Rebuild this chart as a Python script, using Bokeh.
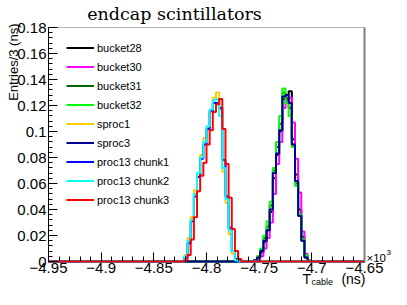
import numpy as np
from bokeh.plotting import figure
from bokeh.models import (Legend, LegendItem, Label, FixedTicker, LinearAxis,
                          CustomJSTickFormatter, Range1d, BoxAnnotation)
from bokeh.embed import file_html
from bokeh.resources import INLINE

# ---------------- data (x in units of 10^3 ns, bins of 3 ns) ----------------
x_min, x_max = -4.95, -4.65
bin_width = 0.003
y_min, y_max = 0.0, 0.18

left_first_bin = 43
sproc1 = [0.005, 0.018, 0.034, 0.055, 0.066, 0.082, 0.095, 0.103, 0.115, 0.126,
          0.130, 0.117, 0.069, 0.045, 0.021, 0.006, 0.001]
proc13_chunk1 = [0.003, 0.014, 0.031, 0.050, 0.065, 0.079, 0.090, 0.102, 0.116, 0.122,
                 0.122, 0.118, 0.078, 0.050, 0.026, 0.008, 0.002]
proc13_chunk2 = [0.004, 0.016, 0.032, 0.052, 0.068, 0.080, 0.092, 0.104, 0.117, 0.124,
                 0.125, 0.112, 0.072, 0.048, 0.024, 0.008, 0.001]
proc13_chunk3 = [0.001, 0.005, 0.017, 0.034, 0.054, 0.066, 0.076, 0.090, 0.101, 0.115,
                 0.121, 0.125, 0.102, 0.075, 0.049, 0.025, 0.008, 0.002]

right_first_bin = 64
bucket28 = [0.000, 0.001, 0.003, 0.007, 0.015, 0.024, 0.038, 0.064, 0.082, 0.100,
            0.125, 0.128, 0.131, 0.094, 0.067, 0.040, 0.019, 0.005, 0.001]
bucket30 = [0.000, 0.000, 0.001, 0.004, 0.010, 0.018, 0.030, 0.052, 0.075, 0.092,
            0.118, 0.124, 0.126, 0.107, 0.079, 0.053, 0.023, 0.006, 0.001]
bucket31 = [0.000, 0.001, 0.004, 0.009, 0.018, 0.027, 0.043, 0.070, 0.088, 0.106,
            0.130, 0.126, 0.118, 0.090, 0.060, 0.036, 0.016, 0.003, 0.000]
bucket32 = [0.000, 0.001, 0.004, 0.010, 0.020, 0.031, 0.046, 0.072, 0.092, 0.112,
            0.133, 0.122, 0.112, 0.088, 0.058, 0.036, 0.017, 0.005, 0.001]
sproc3 = [0.000, 0.001, 0.003, 0.008, 0.016, 0.024, 0.040, 0.068, 0.083, 0.101,
          0.127, 0.128, 0.122, 0.090, 0.062, 0.035, 0.016, 0.003, 0.000]

series = [
    ("bucket28", bucket28, right_first_bin, "#000000"),
    ("bucket30", bucket30, right_first_bin, "#ff00ff"),
    ("bucket31", bucket31, right_first_bin, "#006600"),
    ("bucket32", bucket32, right_first_bin, "#00ff00"),
    ("sproc1", sproc1, left_first_bin, "#ffcc00"),
    ("sproc3", sproc3, right_first_bin, "#000099"),
    ("proc13 chunk1", proc13_chunk1, left_first_bin, "#0000ff"),
    ("proc13 chunk2", proc13_chunk2, left_first_bin, "#00ffff"),
    ("proc13 chunk3", proc13_chunk3, left_first_bin, "#ff0000"),
]

title_text = "endcap scintillators"
y_title = "Entries/3 (ns)"

n_bins = int(round((x_max - x_min) / bin_width))
edges = x_min + bin_width * np.arange(n_bins + 1)

# ---------------- layout: frame fills canvas, axes drawn at fixed locations ----
W, H = 391, 289
box_l, box_r, box_t, box_b = 48, 364, 27, 261   # canvas px of the axis box
sx = (x_max - x_min) / (box_r - box_l)
sy = (y_max - y_min) / (box_b - box_t)
xr = Range1d(x_min - box_l * sx, x_max + (W - box_r) * sx)
yr = Range1d(y_min - (H - box_b) * sy, y_max + box_t * sy)

p = figure(width=W, height=H, output_backend="svg", toolbar_location=None,
           x_range=xr, y_range=yr, min_border=0, title=None)
p.outline_line_color = None
p.background_fill_color = "white"
p.border_fill_color = "white"
p.xgrid.visible = False
p.ygrid.visible = False

p.add_layout(BoxAnnotation(left=x_min, right=x_max, bottom=y_min, top=y_max,
                           fill_alpha=0, line_color="black", line_width=1,
                           level="underlay"))

items = []
for label, vals, first, color in series:
    full = np.zeros(n_bins)
    full[first:first + len(vals)] = vals
    r = p.step(edges, np.append(full, full[-1]), mode="after",
               line_color=color, line_width=2)
    items.append(LegendItem(label=label, renderers=[r]))

legend = Legend(items=items, location=(66, 80), border_line_color=None,
                background_fill_alpha=0, padding=0, margin=0, spacing=0,
                label_height=19, glyph_height=19, glyph_width=28,
                label_standoff=3, label_text_font="Liberation Sans",
                label_text_font_size="11px", label_text_color="black")
p.add_layout(legend)

fmt = CustomJSTickFormatter(code="""
let s = tick.toFixed(2).replace(/\\.?0+$/, '');
if (s === '' || s === '-0') s = '0';
return s.replace('-', '\\u2212');
""")

xmaj = np.round(np.arange(x_min, x_max + 1e-9, 0.05), 3)
xmin_t = np.round(np.arange(x_min, x_max + 1e-9, 0.01), 3)
ymaj = np.round(np.arange(y_min, y_max + 1e-9, 0.02), 3)
ymin_t = np.round(np.arange(y_min, y_max + 1e-9, 0.004), 4)

xax, yax = p.xaxis[0], p.yaxis[0]
xax.fixed_location = y_min
yax.fixed_location = x_min
xax.bounds = (x_min, x_max)
yax.bounds = (y_min, y_max)
for ax, maj, mnr in ((xax, xmaj, xmin_t), (yax, ymaj, ymin_t)):
    ax.ticker = FixedTicker(ticks=list(maj), minor_ticks=list(mnr))
    ax.formatter = fmt
    ax.major_tick_out = 0
    ax.minor_tick_out = 0
    ax.major_tick_line_color = "black"
    ax.minor_tick_line_color = "black"
    ax.major_label_text_font = "Liberation Sans"
    ax.major_label_text_font_size = "15px"
    ax.major_label_text_color = "black"
    ax.major_label_standoff = 2

xax.major_label_standoff = 1
xax.major_tick_in = 9
xax.minor_tick_in = 5
yax.major_tick_in = 9
yax.minor_tick_in = 4
xax.axis_line_color = None
yax.axis_line_color = "black"

rax = LinearAxis(fixed_location=x_max, bounds=(y_min, y_max),
                 ticker=FixedTicker(ticks=[], minor_ticks=[]),
                 axis_line_color="#808080", axis_line_width=2,
                 major_tick_line_color=None, minor_tick_line_color=None,
                 major_label_text_font_size="0px")
p.add_layout(rax, "right")

# ---------------- texts (screen px from canvas bottom-left) ----------------
def lab(x, y, text, size, font="Liberation Sans", **kw):
    p.add_layout(Label(x=x, y=y, x_units="screen", y_units="screen", text=text,
                       text_font=font, text_font_size=size, text_color="black",
                       text_baseline="alphabetic", **kw))

lab(174, H - 13, title_text, "17.5px", font="DejaVu Serif", text_align="center")
lab(13, H - 23, y_title, "13px", angle=np.pi / 2, text_align="right")
lab(302, H - 278, "T", "14px")
lab(311, H - 281, "cable", "9px")
lab(365, H - 278, "(ns)", "14px", text_align="right")
lab(366, H - box_b + 4, "\u00d710", "11.5px")
lab(386, H - box_b + 9, "3", "8px")

open("out.html", "w").write(file_html(p, INLINE))
